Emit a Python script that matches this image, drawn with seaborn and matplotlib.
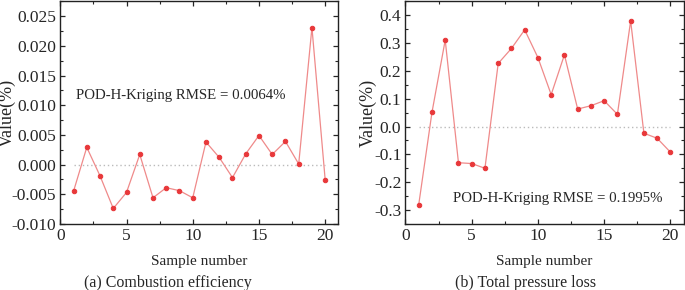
import numpy as np
import pandas as pd
import seaborn as sns
import matplotlib.pyplot as plt
from matplotlib.ticker import MultipleLocator

# Sample numbers and prediction errors
samples = list(range(1, 21))
combustion_eff = [-0.0045, 0.0029, -0.0019, -0.0074, -0.0047, 0.0017, -0.0056, -0.0039, -0.0044, -0.0056,
                  0.0038, 0.0012, -0.0022, 0.0018, 0.0049, 0.0017, 0.0039, 0.0001, 0.0231, -0.0026]
pressure_loss = [-0.281, 0.051, 0.311, -0.130, -0.133, -0.150, 0.227, 0.281, 0.348, 0.248,
                 0.115, 0.258, 0.063, 0.075, 0.093, 0.044, 0.380, -0.024, -0.042, -0.092]

rmse_labels = ["POD-H-Kriging RMSE = 0.0064%", "POD-H-Kriging RMSE = 0.1995%"]
captions = ["(a) Combustion efficiency", "(b) Total pressure loss"]

sns.set_style("ticks")
plt.rcParams["font.family"] = ["Liberation Serif", "DejaVu Serif"]

fig, axes = plt.subplots(1, 2, figsize=(6.85, 2.9), dpi=100)
fig.subplots_adjust(left=0.088, right=0.998, top=0.995, bottom=0.228, wspace=0.241)

panels = [
    (axes[0], combustion_eff, (-0.010, 0.0275), 0.005, "{:.3f}", (1.2, 0.0117), -0.19, 0.388),
    (axes[1], pressure_loss, (-0.35, 0.45), 0.1, "{:.1f}", (3.6, -0.26), -0.136, 0.43),
]

for i, (ax, vals, ylim, step, fmt, txt_pos, ylab_x, cap_x) in enumerate(panels):
    df = pd.DataFrame({"Sample": samples, "Value": vals})
    ax.hlines(0, 1, 20, colors="#bbbbbb", linestyles=(0, (1, 2)), linewidth=1.0, zorder=1)
    sns.lineplot(data=df, x="Sample", y="Value", ax=ax, color="#ef8a8a", linewidth=0.9,
                 marker="o", markersize=3.2, markerfacecolor="#e8383a", markeredgecolor="#e8383a",
                 zorder=3)
    ax.set_xlim(0, 21)
    ax.set_ylim(*ylim)
    ax.xaxis.set_major_locator(MultipleLocator(5))
    ax.xaxis.set_minor_locator(MultipleLocator(2.5))
    ax.yaxis.set_major_locator(MultipleLocator(step))
    ax.yaxis.set_minor_locator(MultipleLocator(step / 2))
    ax.set_yticks(ax.get_yticks())
    ax.set_yticklabels([fmt.format(t) for t in ax.get_yticks()])
    ax.set_ylim(*ylim)
    ax.tick_params(which="both", direction="in", top=True, right=True, labelsize=12.5, pad=3)
    ax.tick_params(which="major", length=3.5, width=0.9)
    ax.tick_params(which="minor", length=2, width=0.8)
    for s in ax.spines.values():
        s.set_linewidth(1.0)
        s.set_color("#222222")
    ax.set_xlabel("Sample number", fontsize=11)
    ax.xaxis.set_label_coords(0.5, -0.171)
    ax.xaxis.label.set_va("center")
    ax.set_ylabel("Value(%)", fontsize=13)
    ax.yaxis.set_label_coords(ylab_x, 0.5)
    ax.yaxis.label.set_va("center")
    ax.text(txt_pos[0], txt_pos[1], rmse_labels[i], fontsize=10.7, va="center", ha="left")
    ax.text(cap_x, -0.266, captions[i], transform=ax.transAxes, fontsize=11.5, ha="center", va="center")

fig.savefig("out.png", dpi=100)
